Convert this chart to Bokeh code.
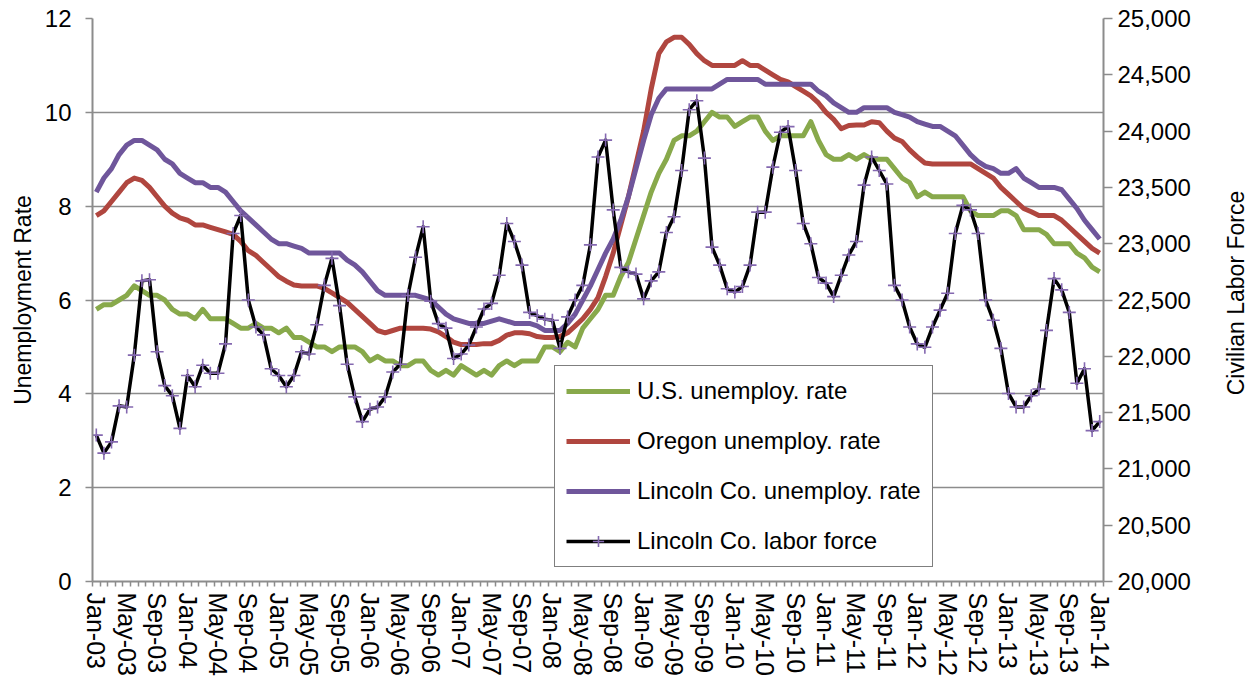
import math
from bokeh.plotting import figure
from bokeh.layouts import row
from bokeh.models import (Range1d, LinearAxis, FixedTicker, NumeralTickFormatter,
                          Legend, LegendItem, ColumnDataSource)
from bokeh.core.properties import value
from bokeh.embed import file_html
from bokeh.resources import INLINE

# ---------------- data ----------------
# month index: 0 = Jan-03 ... 132 = Jan-14
months = list(range(133))

tick_positions = list(range(0, 133, 4))
tick_labels = ["Jan-03", "May-03", "Sep-03", "Jan-04", "May-04", "Sep-04",
               "Jan-05", "May-05", "Sep-05", "Jan-06", "May-06", "Sep-06",
               "Jan-07", "May-07", "Sep-07", "Jan-08", "May-08", "Sep-08",
               "Jan-09", "May-09", "Sep-09", "Jan-10", "May-10", "Sep-10",
               "Jan-11", "May-11", "Sep-11", "Jan-12", "May-12", "Sep-12",
               "Jan-13", "May-13", "Sep-13", "Jan-14"]

us_rate = [
    5.8, 5.9, 5.9, 6.0, 6.1, 6.3, 6.2, 6.1, 6.1, 6.0, 5.8, 5.7,
    5.7, 5.6, 5.8, 5.6, 5.6, 5.6, 5.5, 5.4, 5.4, 5.5, 5.4, 5.4,
    5.3, 5.4, 5.2, 5.2, 5.1, 5.0, 5.0, 4.9, 5.0, 5.0, 5.0, 4.9,
    4.7, 4.8, 4.7, 4.7, 4.6, 4.6, 4.7, 4.7, 4.5, 4.4, 4.5, 4.4,
    4.6, 4.5, 4.4, 4.5, 4.4, 4.6, 4.7, 4.6, 4.7, 4.7, 4.7, 5.0,
    5.0, 4.9, 5.1, 5.0, 5.4, 5.6, 5.8, 6.1, 6.1, 6.5, 6.8, 7.3,
    7.8, 8.3, 8.7, 9.0, 9.4, 9.5, 9.5, 9.6, 9.8, 10.0, 9.9, 9.9,
    9.7, 9.8, 9.9, 9.9, 9.6, 9.4, 9.5, 9.5, 9.5, 9.5, 9.8, 9.4,
    9.1, 9.0, 9.0, 9.1, 9.0, 9.1, 9.0, 9.0, 9.0, 8.8, 8.6, 8.5,
    8.2, 8.3, 8.2, 8.2, 8.2, 8.2, 8.2, 7.9, 7.8, 7.8, 7.8, 7.9,
    7.9, 7.8, 7.5, 7.5, 7.5, 7.4, 7.2, 7.2, 7.2, 7.0, 6.9, 6.7,
    6.6]

oregon_rate = [
    7.8, 7.9, 8.1, 8.3, 8.5, 8.6, 8.55, 8.4, 8.2, 8.0, 7.85, 7.75,
    7.7, 7.6, 7.6, 7.55, 7.5, 7.45, 7.4, 7.25, 7.05, 6.95, 6.8, 6.65,
    6.5, 6.4, 6.32, 6.3, 6.3, 6.3, 6.25, 6.15, 6.05, 5.95, 5.8, 5.65,
    5.5, 5.35, 5.3, 5.35, 5.4, 5.4, 5.4, 5.4, 5.38, 5.32, 5.22, 5.1,
    5.05, 5.05, 5.05, 5.07, 5.07, 5.14, 5.25, 5.3, 5.3, 5.28, 5.22, 5.2,
    5.2, 5.22, 5.3, 5.45, 5.6, 5.8, 6.05, 6.5, 7.0, 7.6, 8.2, 8.9,
    9.6, 10.5, 11.25, 11.5, 11.6, 11.6, 11.45, 11.25, 11.1, 11.0, 11.0, 11.0,
    11.0, 11.1, 11.0, 11.0, 10.9, 10.8, 10.7, 10.65, 10.55, 10.45, 10.35, 10.2,
    10.0, 9.85, 9.65, 9.72, 9.73, 9.73, 9.8, 9.78, 9.6, 9.45, 9.38, 9.2,
    9.05, 8.92, 8.9, 8.9, 8.9, 8.9, 8.9, 8.9, 8.8, 8.7, 8.6, 8.4,
    8.25, 8.1, 7.95, 7.88, 7.8, 7.8, 7.8, 7.7, 7.55, 7.4, 7.25, 7.1,
    7.0]

lincoln_rate = [
    8.3, 8.6, 8.8, 9.1, 9.3, 9.4, 9.4, 9.3, 9.2, 9.0, 8.9, 8.7,
    8.6, 8.5, 8.5, 8.4, 8.4, 8.3, 8.1, 7.9, 7.75, 7.6, 7.45, 7.3,
    7.2, 7.2, 7.15, 7.1, 7.0, 7.0, 7.0, 7.0, 7.0, 6.85, 6.75, 6.6,
    6.4, 6.2, 6.1, 6.1, 6.1, 6.1, 6.1, 6.05, 6.0, 5.85, 5.7, 5.6,
    5.55, 5.5, 5.5, 5.5, 5.55, 5.6, 5.55, 5.5, 5.5, 5.5, 5.45, 5.35,
    5.35, 5.35, 5.5, 5.7, 6.0, 6.3, 6.65, 7.0, 7.3, 7.7, 8.2, 8.8,
    9.4, 9.95, 10.3, 10.5, 10.5, 10.5, 10.5, 10.5, 10.5, 10.5, 10.6, 10.7,
    10.7, 10.7, 10.7, 10.7, 10.6, 10.6, 10.6, 10.6, 10.6, 10.6, 10.6, 10.45,
    10.35, 10.2, 10.1, 10.0, 10.0, 10.1, 10.1, 10.1, 10.1, 10.0, 9.95, 9.9,
    9.8, 9.75, 9.7, 9.7, 9.6, 9.5, 9.3, 9.1, 8.95, 8.85, 8.8, 8.7,
    8.7, 8.8, 8.6, 8.5, 8.4, 8.4, 8.4, 8.35, 8.15, 7.95, 7.7, 7.5,
    7.3]

lincoln_labor_force = [
    21300, 21140, 21240, 21560, 21550, 22010, 22670, 22680, 22040, 21740, 21650, 21360,
    21830, 21730, 21920, 21850, 21850, 22110, 23090, 23250, 22500, 22260, 22190, 21890,
    21830, 21730, 21830, 22040, 22020, 22280, 22630, 22870, 22450, 21930, 21640, 21420,
    21530, 21550, 21640, 21860, 21930, 22540, 22880, 23150, 22490, 22290, 22250, 21980,
    22020, 22100, 22260, 22420, 22470, 22720, 23180, 23020, 22810, 22390, 22360, 22330,
    22320, 22070, 22350, 22500, 22630, 22990, 23770, 23920, 23300, 22790, 22750, 22730,
    22510, 22670, 22750, 23100, 23240, 23650, 24190, 24270, 23760, 22970, 22810, 22600,
    22570, 22620, 22810, 23280, 23280, 23680, 23990, 24040, 23650, 23180, 23000, 22700,
    22650, 22530, 22720, 22900, 23020, 23520, 23770, 23650, 23530, 22630, 22500, 22260,
    22110, 22080, 22260, 22410, 22560, 23090, 23340, 23300, 23090, 22500, 22320, 22070,
    21670, 21550, 21550, 21650, 21710, 22230, 22690, 22590, 22390, 21760, 21890, 21340,
    21420]

rate_ticks = [0, 2, 4, 6, 8, 10, 12]
lf_ticks = [20000, 20500, 21000, 21500, 22000, 22500, 23000, 23500, 24000, 24500, 25000]
right_axis_title = "Civilian Labor Force"

# ---------------- style ----------------
FONT = "Liberation Sans"
GREEN = "#88A94B"
RED = "#B0463F"
PURPLE = "#6F569B"
CROSS = "#8468B0"
GRAY = "#8C8C8C"

MAIN_W = 1200
TOTAL_H = 687

p = figure(width=MAIN_W, height=TOTAL_H,
           x_range=Range1d(-0.5, 132.5), y_range=Range1d(0, 12),
           output_backend="svg", toolbar_location=None,
           min_border_left=92, min_border_right=MAIN_W - 1103,
           min_border_top=18, min_border_bottom=106,
           background_fill_color="white", border_fill_color="white")
p.outline_line_color = None

# x axis
xa = p.xaxis[0]
xa.ticker = FixedTicker(ticks=tick_positions,
                        minor_ticks=[k - 0.5 for k in range(134)])
xa.major_label_overrides = {t: l for t, l in zip(tick_positions, tick_labels)}
xa.major_label_orientation = "vertical"
xa.major_label_text_font = FONT
xa.major_label_text_font_size = "25px"
xa.major_label_text_color = "black"
xa.major_label_standoff = 6
xa.major_tick_line_color = None
xa.major_tick_out = 5
xa.major_tick_in = 0
xa.minor_tick_line_color = GRAY
xa.minor_tick_line_width = 1.5
xa.minor_tick_out = 5
xa.minor_tick_in = 0
xa.axis_line_color = GRAY
xa.axis_line_width = 2

# left axis
ya = p.yaxis[0]
ya.ticker = FixedTicker(ticks=rate_ticks)
ya.axis_label = "Unemployment Rate"
ya.axis_label_text_font = FONT
ya.axis_label_text_font_size = "23px"
ya.axis_label_text_font_style = "normal"
ya.axis_label_text_color = "black"
ya.axis_label_standoff = 6
ya.major_label_text_font = FONT
ya.major_label_text_font_size = "24px"
ya.major_label_text_color = "black"
ya.major_label_standoff = 14
ya.major_tick_line_color = GRAY
ya.major_tick_line_width = 1.5
ya.major_tick_out = 7
ya.major_tick_in = 0
ya.minor_tick_line_color = None
ya.axis_line_color = GRAY
ya.axis_line_width = 2

# right axis
p.extra_y_ranges = {"lf": Range1d(20000, 25000)}
ra = LinearAxis(y_range_name="lf", ticker=FixedTicker(ticks=lf_ticks),
                formatter=NumeralTickFormatter(format="0,0"))
ra.major_label_text_font = FONT
ra.major_label_text_font_size = "24px"
ra.major_label_text_color = "black"
ra.major_label_standoff = 5
ra.major_tick_line_color = GRAY
ra.major_tick_line_width = 1.5
ra.major_tick_out = 9
ra.major_tick_in = 0
ra.minor_tick_line_color = None
ra.axis_line_color = GRAY
ra.axis_line_width = 2
p.add_layout(ra, "right")

# grid
p.xgrid.grid_line_color = None
p.ygrid.ticker = FixedTicker(ticks=rate_ticks)
p.ygrid.grid_line_color = GRAY
p.ygrid.grid_line_width = 1.5

# series
g = p.line(months, us_rate, line_color=GREEN, line_width=5, line_join="round")
r = p.line(months, oregon_rate, line_color=RED, line_width=5, line_join="round")
pu = p.line(months, lincoln_rate, line_color=PURPLE, line_width=5, line_join="round")
b = p.line(months, lincoln_labor_force, y_range_name="lf", line_color="black",
           line_width=3.5, line_join="round")
c = p.scatter(months, lincoln_labor_force, y_range_name="lf", marker="cross",
              size=13, line_color=CROSS, line_width=1.6)

legend = Legend(items=[
    LegendItem(label="U.S. unemploy. rate", renderers=[g]),
    LegendItem(label="Oregon unemploy. rate", renderers=[r]),
    LegendItem(label="Lincoln Co. unemploy. rate", renderers=[pu]),
    LegendItem(label="Lincoln Co. labor force", renderers=[b, c]),
], location=(462, 14))
legend.label_text_font = FONT
legend.label_text_font_size = "24px"
legend.label_text_color = "black"
legend.glyph_width = 64
legend.glyph_height = 28
legend.label_height = 28
legend.label_standoff = 7
legend.spacing = 22
legend.padding = 11
legend.margin = 0
legend.border_line_color = "black"
legend.border_line_width = 1.5
legend.background_fill_color = "white"
legend.background_fill_alpha = 1
p.add_layout(legend)

# narrow strip on the right carrying the right-axis title (bottom-to-top)
strip_w = 1250 - MAIN_W
q = figure(width=strip_w, height=TOTAL_H,
           x_range=Range1d(0, strip_w), y_range=Range1d(0, TOTAL_H),
           output_backend="svg", toolbar_location=None,
           x_axis_location=None, y_axis_location=None,
           min_border=0, min_border_left=0, min_border_right=0,
           min_border_top=0, min_border_bottom=0,
           background_fill_color="white", border_fill_color="white")
q.outline_line_color = None
q.grid.visible = False
title_src = ColumnDataSource(dict(x=[1235 - MAIN_W], y=[352],
                                  t=[right_axis_title]))
q.text(x="x", y="y", text="t", source=title_src, angle=math.pi / 2,
       text_align="center", text_baseline="middle",
       text_font=value(FONT), text_font_size="23px", text_color="black")

layout = row(p, q, spacing=0)
open("out.html", "w").write(file_html(layout, INLINE))
